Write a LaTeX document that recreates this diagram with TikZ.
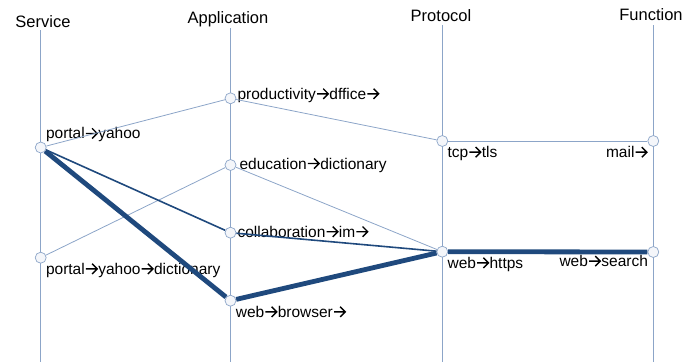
\documentclass[tikz,border=0pt]{standalone}
\usepackage{fontspec}
\setmainfont{Liberation Sans}
\usetikzlibrary{positioning}
\definecolor{axisblue}{RGB}{140,165,200}
\definecolor{pathblue}{RGB}{31,73,125}
\definecolor{dotfill}{RGB}{244,246,250}
% arrow sign used inside the value names
\newcommand\nxt{\kern.4pt\tikz[baseline=0pt,x=1pt,y=1pt]\draw[black,line width=1.4pt]
  (0,5.5)--(11,5.5) (6.2,10.6)--(11.3,5.5)--(6.2,.4);\kern.4pt}

\begin{document}
\begin{tikzpicture}[x=1pt,y=-1pt,
title/.style={font=\fontsize{16.5}{19}\selectfont,anchor=base,inner sep=0pt},
lbl/.style={font=\fontsize{15.5}{18}\selectfont,inner sep=1pt},
dot/.style={circle,draw=axisblue,fill=dotfill,line width=.7pt,minimum size=11pt,inner sep=0pt},
axis/.style={draw=axisblue,line width=.8pt},
weak/.style={draw=axisblue,line width=.8pt},
mid/.style={draw=pathblue,line width=1.6pt},
hot/.style={draw=pathblue,line width=4.8pt}]

\useasboundingbox (0,0) rectangle (699,362);

% column heads and axes
\node[title] (svc) at (43,27) {Service};
\node[title] (app) at (228,23) {Application};
\node[title] (prt) at (441,21) {Protocol};
\node[title] (fun) at (651,20) {Function};
\coordinate (svct) at (40.7,30);  \coordinate (svcb) at (40.7,362);
\coordinate (appt) at (230.5,28); \coordinate (appb) at (230.5,362);
\coordinate (prtt) at (442.3,25); \coordinate (prtb) at (442.3,362);
\coordinate (funt) at (653.3,25); \coordinate (funb) at (653.3,362);
\draw[axis] (svct) -- (svcb);
\draw[axis] (appt) -- (appb);
\draw[axis] (prtt) -- (prtb);
\draw[axis] (funt) -- (funb);

% values on each axis
\node[dot,label={[lbl,anchor=south west]north east:portal\nxt yahoo}] (yahoo) at (40.7,147.5) {};
\node[dot,label={[lbl,anchor=north west]south east:portal\nxt yahoo\nxt dictionary}] (ydict) at (40.7,257.7) {};
\node[dot,label={[lbl,anchor=west,yshift=3pt]east:productivity\nxt dffice\nxt}] (office) at (230.5,98.3) {};
\node[dot,label={[lbl,anchor=west,xshift=2pt]east:education\nxt dictionary}] (educ) at (230.5,165) {};
\node[dot,label={[lbl,anchor=west,yshift=1pt]east:collaboration\nxt im\nxt}] (im) at (230.5,232.7) {};
\node[dot,label={[lbl,anchor=north west]south east:web\nxt browser\nxt}] (browser) at (230.5,300.7) {};
\node[dot,label={[lbl,anchor=north west]south east:tcp\nxt tls}] (tls) at (442.3,141) {};
\node[dot,label={[lbl,anchor=north west]south east:web\nxt https}] (https) at (442.3,251.7) {};
\node[dot,label={[lbl,anchor=north east]south west:mail\nxt}] (mail) at (653.3,141) {};
\node[dot,label={[lbl,anchor=north east,yshift=2pt]south west:web\nxt search}] (search) at (653.3,252) {};

% links between values
\draw[weak] (yahoo) -- (office);
\draw[weak] (office) -- (tls);
\draw[weak] (tls) -- (mail);
\draw[weak] (ydict) -- (educ);
\draw[weak] (educ) -- (https);
\draw[mid] (yahoo) -- (im);
\draw[mid] (im) -- (https);
\draw[hot] (yahoo) -- (browser);
\draw[hot] (browser) -- (https);
\draw[hot] (https) -- (search);
\end{tikzpicture}
\end{document}
